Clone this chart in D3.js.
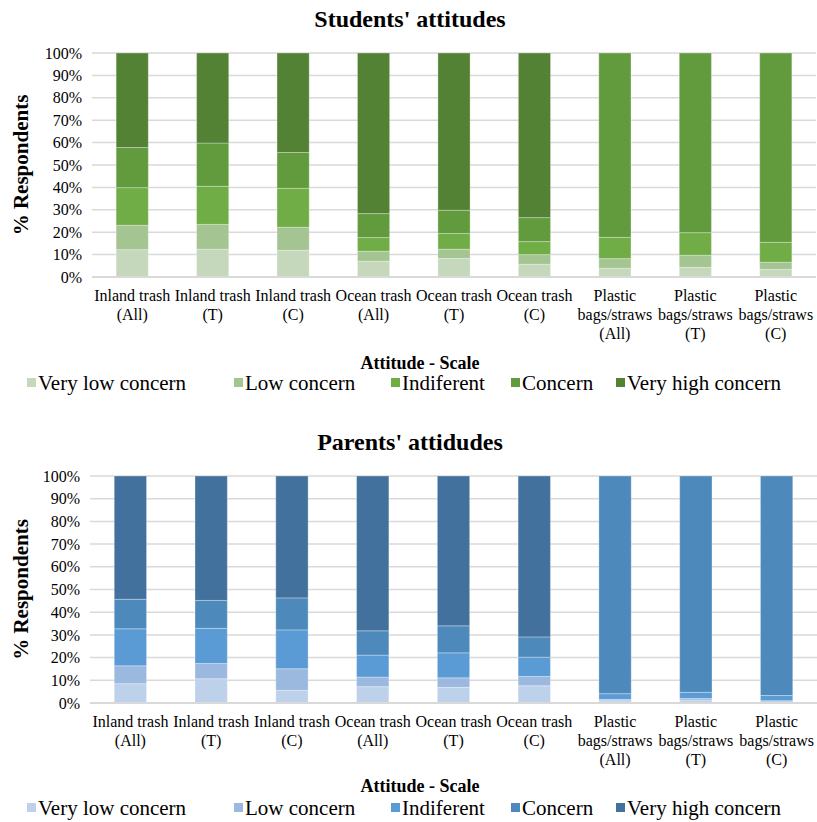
<!DOCTYPE html>
<html>
<head>
<meta charset="utf-8">
<script src="https://cdn.jsdelivr.net/npm/d3@7"></script>
<style>
  body { margin: 0; background: #fff; }
  svg { display: block; }
  svg text { font-family: "Liberation Serif", "Times New Roman", serif; }
</style>
</head>
<body>
<svg id="chart" width="817" height="822"></svg>
<script>
// Survey items (one stacked bar each), split into label lines
const categories = [
  ["Inland trash", "(All)"],
  ["Inland trash", "(T)"],
  ["Inland trash", "(C)"],
  ["Ocean trash", "(All)"],
  ["Ocean trash", "(T)"],
  ["Ocean trash", "(C)"],
  ["Plastic", "bags/straws", "(All)"],
  ["Plastic", "bags/straws", "(T)"],
  ["Plastic", "bags/straws", "(C)"]
];

const scaleLevels = ["Very low concern", "Low concern", "Indiferent", "Concern", "Very high concern"];

// Students' answers, % of respondents per level
const studentsVeryLow     = [12.2, 12.4, 11.9, 7.0, 8.3, 5.7, 3.9, 4.3, 3.4];
const studentsLow         = [10.9, 11.1, 10.3, 4.5, 4.1, 4.3, 4.3, 5.4, 3.2];
const studentsIndifferent = [16.8, 17.0, 17.4, 6.1, 7.0, 5.8, 9.5, 10.1, 8.9];
const studentsConcern     = [17.9, 19.3, 16.0, 10.7, 10.4, 10.7, 82.3, 80.2, 84.5];
const studentsVeryHigh    = [42.2, 40.2, 44.4, 71.7, 70.2, 73.5, 0, 0, 0];

// Parents' answers, % of respondents per level
const parentsVeryLow     = [8.5, 10.7, 5.6, 7.2, 6.9, 7.6, 1.0, 1.3, 0.5];
const parentsLow         = [7.9, 6.7, 9.5, 4.2, 4.2, 4.1, 0.6, 0.7, 0.5];
const parentsIndifferent = [16.3, 15.5, 17.1, 9.7, 11.0, 8.5, 2.5, 2.7, 2.3];
const parentsConcern     = [13.0, 12.3, 14.1, 10.7, 11.9, 8.9, 95.9, 95.3, 96.7];
const parentsVeryHigh    = [54.3, 54.8, 53.7, 68.2, 66.0, 70.9, 0, 0, 0];

const yTicks = [0, 10, 20, 30, 40, 50, 60, 70, 80, 90, 100];

const greenPalette = ["#c5d8bc", "#a4c491", "#70ad47", "#629a3e", "#548235"];
const bluePalette  = ["#bdd1eb", "#9bb8df", "#5b9bd5", "#4e89bc", "#41719c"];

const FONT = "Liberation Serif, Times New Roman, serif";
const svg = d3.select("#chart");

function drawPanel(opts) {
  const rows = categories.map((c, i) => {
    const r = { key: i };
    scaleLevels.forEach((lvl, j) => { r[lvl] = opts.series[j][i]; });
    return r;
  });
  const stacked = d3.stack().keys(scaleLevels)(rows);

  const x = d3.scaleBand().domain(d3.range(categories.length))
    .range([opts.left, opts.right]).paddingInner(0.6).paddingOuter(0.3);
  const y = d3.scaleLinear().domain([0, 100]).range([opts.bottom, opts.top]);
  const color = d3.scaleOrdinal().domain(scaleLevels).range(opts.palette);

  const g = svg.append("g").attr("font-family", FONT);

  // title
  g.append("text")
    .attr("x", opts.titleX).attr("y", opts.titleY)
    .attr("text-anchor", "middle").attr("font-family", FONT)
    .attr("font-size", 24).attr("font-weight", "bold").attr("fill", "#000")
    .text(opts.title);

  // horizontal gridlines
  g.append("g").selectAll("line").data(yTicks.filter(t => t > 0)).join("line")
    .attr("x1", opts.left).attr("x2", opts.right)
    .attr("y1", d => y(d)).attr("y2", d => y(d))
    .attr("stroke", "#d9d9d9").attr("stroke-width", 1.5);

  // y axis tick labels
  const yAxis = d3.axisLeft(y).tickValues(yTicks).tickSize(0).tickPadding(10)
    .tickFormat(d => d + "%");
  g.append("g").attr("transform", `translate(${opts.left},0)`).call(yAxis)
    .attr("font-family", FONT)
    .call(s => s.select(".domain").remove())
    .call(s => s.selectAll("text")
      .attr("font-family", FONT)
      .attr("font-size", 16).attr("fill", "#000"));

  // y axis title
  g.append("text")
    .attr("transform", `translate(${opts.yTitleX},${(opts.top + opts.bottom) / 2}) rotate(-90)`)
    .attr("text-anchor", "middle").attr("font-family", FONT)
    .attr("font-size", 21).attr("font-weight", "bold").attr("fill", "#000")
    .text("% Respondents");

  // stacked bars
  g.append("g").selectAll("g").data(stacked).join("g")
    .attr("fill", d => color(d.key))
    .selectAll("rect").data(d => d).join("rect")
    .attr("x", (d, i) => x(i))
    .attr("width", x.bandwidth())
    .attr("y", d => y(d[1]))
    .attr("height", d => Math.max(0, y(d[0]) - y(d[1])))
    .attr("stroke", "#ffffff").attr("stroke-opacity", 0.3).attr("stroke-width", 1);

  // baseline
  g.append("line")
    .attr("x1", opts.left).attr("x2", opts.right)
    .attr("y1", y(0)).attr("y2", y(0))
    .attr("stroke", "#d9d9d9").attr("stroke-width", 2);

  // category labels
  const xAxis = d3.axisBottom(x).tickSize(0).tickFormat("");
  const xg = g.append("g").attr("transform", `translate(0,${opts.bottom})`).call(xAxis)
    .attr("font-family", FONT);
  xg.select(".domain").remove();
  xg.selectAll(".tick").each(function(d) {
    const t = d3.select(this).append("text")
      .attr("text-anchor", "middle")
      .attr("font-family", FONT)
      .attr("font-size", 16).attr("fill", "#000")
      .attr("y", opts.labelY);
    categories[d].forEach((line, k) => {
      t.append("tspan").attr("x", 0).attr("dy", k === 0 ? 0 : opts.lineGap).text(line);
    });
  });

  // legend
  g.append("text")
    .attr("x", opts.legendTitleX).attr("y", opts.legendTitleY)
    .attr("text-anchor", "middle").attr("font-family", FONT)
    .attr("font-size", 18).attr("font-weight", "bold").attr("fill", "#000")
    .text("Attitude - Scale");

  const legendX = [27, 234, 391, 511, 616];
  const lg = g.append("g").selectAll("g").data(scaleLevels).join("g")
    .attr("transform", (d, i) => `translate(${legendX[i]},${opts.legendY})`);
  lg.append("rect").attr("x", 0).attr("y", -12).attr("width", 9).attr("height", 9)
    .attr("fill", d => color(d));
  lg.append("text").attr("x", 11).attr("y", 0).attr("font-family", FONT)
    .attr("font-size", 21).attr("fill", "#000").text(d => d);
}

drawPanel({
  title: "Students' attitudes", titleX: 410, titleY: 27,
  series: [studentsVeryLow, studentsLow, studentsIndifferent, studentsConcern, studentsVeryHigh],
  palette: greenPalette,
  left: 92, right: 816, top: 53, bottom: 277,
  yTitleX: 28, labelY: 24, lineGap: 19,
  legendTitleX: 420, legendTitleY: 369, legendY: 390
});

drawPanel({
  title: "Parents' attidudes", titleX: 410, titleY: 450,
  series: [parentsVeryLow, parentsLow, parentsIndifferent, parentsConcern, parentsVeryHigh],
  palette: bluePalette,
  left: 90, right: 817, top: 476, bottom: 703,
  yTitleX: 28, labelY: 24, lineGap: 19,
  legendTitleX: 420, legendTitleY: 792, legendY: 815
});
</script>
</body>
</html>
